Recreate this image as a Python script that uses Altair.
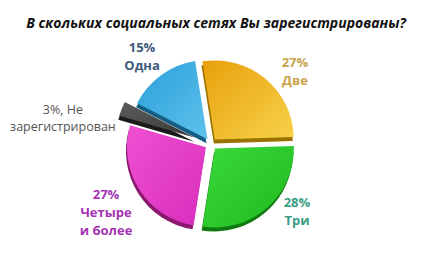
import math
import altair as alt
import pandas as pd

# ---- data ----
title_text = "В скольких социальных сетях Вы зарегистрированы?"
categories = ["Две", "Три", "Четыре и более", "Не зарегистрирован", "Одна"]
values = [27, 28, 27, 3, 15]
label_text = ["27%\nДве", "28%\nТри", "27%\nЧетыре\nи более", "3%, Не\nзарегистрирован", "15%\nОдна"]

# ---- style / layout ----
grad_start = ["#E8A00C", "#3ADA3A", "#F050D2", "#2A9FDA", "#5C5C5C"]
grad_end = ["#F7D24A", "#1FB81F", "#D82EBC", "#5EC2EC", "#383838"]
# reorder to match categories: Две, Три, Четыре, Не, Одна
grad_start = [grad_start[0], grad_start[1], grad_start[2], grad_start[4], grad_start[3]]
grad_end = [grad_end[0], grad_end[1], grad_end[2], grad_end[4], grad_end[3]]
dark = ["#9A7200", "#0F7A0F", "#8A1A70", "#1A1A1A", "#145E84"]
label_colors = ["#C9A24A", "#3A9C84", "#A534B4", "#555555", "#3C5A7C"]
label_bold = [1, 1, 1, 0, 1]
explode = [6, 6, 6, 17, 6]
label_angle = [46.0, 124.5, 244.1, 282.9, 324.3]
label_r = [116.7, 104.3, 116.7, 151.9, 118.2]

W, H = 431, 264
CX, CY, R = 211, 144, 79
START = math.radians(-9)
DEPTH = 4

df = pd.DataFrame({
    "cat": categories,
    "value": values,
    "label": label_text,
    "dark": dark,
    "lcolor": label_colors,
    "bold": label_bold,
    "explode": explode,
    "la": label_angle,
    "lr": label_r,
    "order": list(range(len(values))),
})

base = (
    alt.Chart(df)
    .transform_joinaggregate(total="sum(value)")
    .transform_window(cum="sum(value)", sort=[alt.SortField("order")], frame=[None, 0])
    .transform_calculate(
        t1=f"{START} + 2*PI*datum.cum/datum.total",
        t0=f"{START} + 2*PI*(datum.cum - datum.value)/datum.total",
    )
    .transform_calculate(mid="(datum.t0 + datum.t1)/2")
    .transform_calculate(
        px=f"{CX} + datum.explode*sin(datum.mid)",
        py=f"{CY} - datum.explode*cos(datum.mid)",
        pxd=f"{CX} - 1 + datum.explode*sin(datum.mid)",
        pyd=f"{CY} + {DEPTH} - datum.explode*cos(datum.mid)",
        lx=f"{CX} + datum.lr*sin(datum.la*PI/180)",
        ly=f"{CY} - datum.lr*cos(datum.la*PI/180)",
    )
)

shadow = base.mark_arc(radius=R).encode(
    theta=alt.Theta("t0:Q", scale=None),
    theta2="t1:Q",
    x=alt.X("pxd:Q", scale=None),
    y=alt.Y("pyd:Q", scale=None),
    color=alt.Color("dark:N", scale=None),
)

slice_layers = []
for i in range(len(categories)):
    grad = alt.LinearGradient(
        gradient="linear",
        stops=[alt.GradientStop(offset=0, color=grad_start[i]),
               alt.GradientStop(offset=1, color=grad_end[i])],
        x1=0, y1=0, x2=1, y2=1,
    )
    slice_layers.append(
        base.transform_filter(f"datum.order == {i}").mark_arc(radius=R, color=grad).encode(
            theta=alt.Theta("t0:Q", scale=None),
            theta2="t1:Q",
            x=alt.X("px:Q", scale=None),
            y=alt.Y("py:Q", scale=None),
        )
    )

def label_layer(bold):
    return base.transform_filter(f"datum.bold == {bold}").mark_text(
        font="Open Sans", fontSize=13 if bold else 12.5, lineBreak="\n",
        lineHeight=18 if bold else 17,
        align="center", baseline="middle",
        fontWeight="bold" if bold else "normal",
    ).encode(
        x=alt.X("lx:Q", scale=None),
        y=alt.Y("ly:Q", scale=None),
        text="label:N",
        color=alt.Color("lcolor:N", scale=None),
    )

title = alt.Chart(pd.DataFrame({"t": [title_text]})).mark_text(
    font="Open Sans", fontSize=14, fontWeight="bold", fontStyle="italic",
    color="#111111", align="center", baseline="middle",
).encode(x=alt.value(216), y=alt.value(24), text="t:N")

chart = (
    alt.layer(shadow, *slice_layers, label_layer(1), label_layer(0), title)
    .properties(width=W, height=H, autosize=alt.AutoSizeParams(type="none"), padding=0)
    .configure_view(stroke=None)
)

chart.save("out.html", embed_options={"renderer": "svg", "actions": False})
